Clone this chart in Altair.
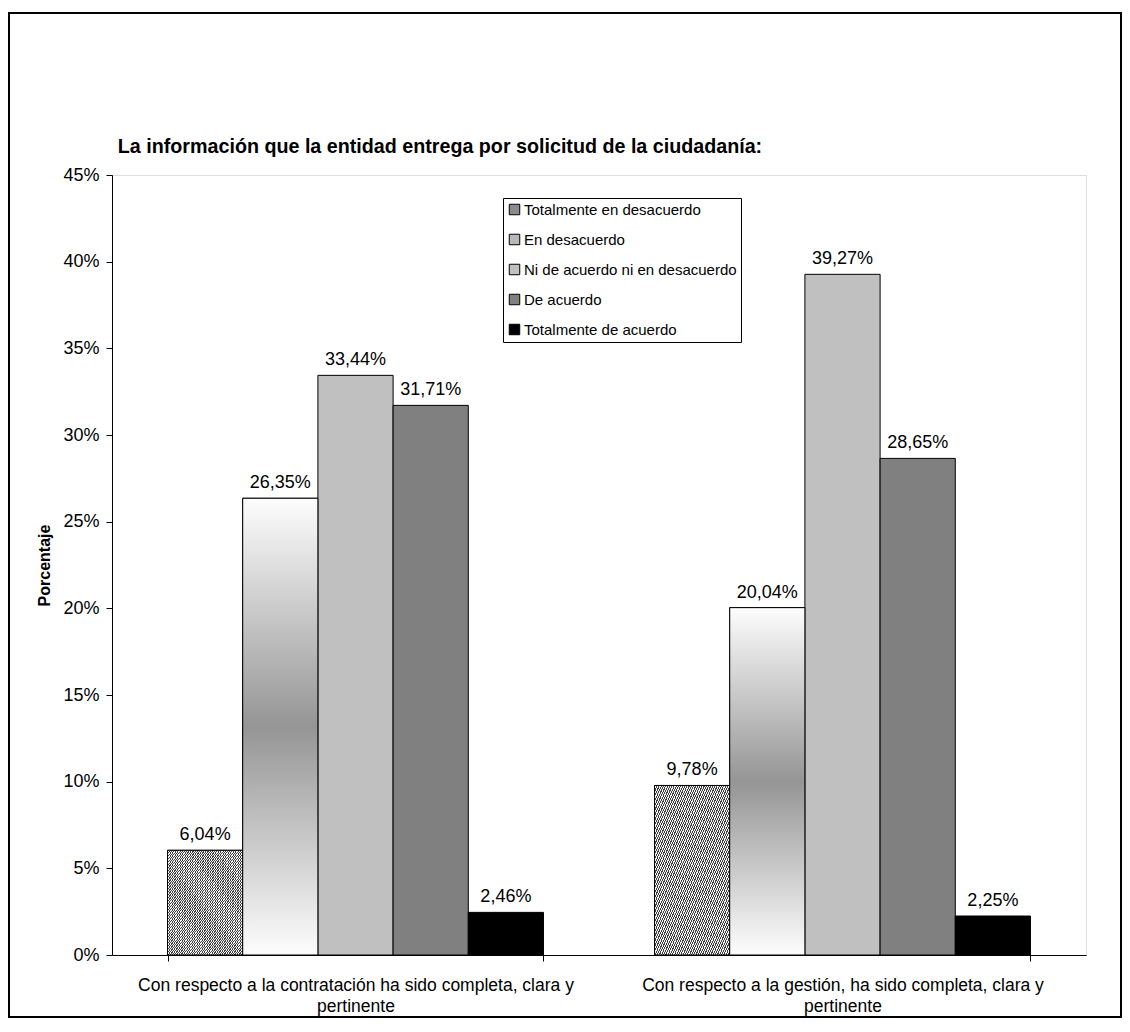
import altair as alt
import pandas as pd

# ---------------- data ----------------
categories = [
    "Con respecto a la contratación ha sido completa, clara y pertinente",
    "Con respecto a la gestión, ha sido completa, clara y pertinente",
]
series = [
    "Totalmente en desacuerdo",
    "En desacuerdo",
    "Ni de acuerdo ni en desacuerdo",
    "De acuerdo",
    "Totalmente de acuerdo",
]
values_contratacion = [6.04, 26.35, 33.44, 31.71, 2.46]
values_gestion = [9.78, 20.04, 39.27, 28.65, 2.25]
y_ticks = [0, 5, 10, 15, 20, 25, 30, 35, 40, 45]
series_colors = ["#8c8c8c", "#b8b8b8", "#c0c0c0", "#808080", "#000000"]
title_text = "La información que la entidad entrega por solicitud de la ciudadanía:"

rows = []
for cat, vals in zip(categories, [values_contratacion, values_gestion]):
    for s, v in zip(series, vals):
        rows.append({"categoria": cat, "serie": s, "valor": v})
df = pd.DataFrame(rows)

FONT = "Liberation Sans, Arial, sans-serif"
W, H = 974, 780

# hatch fill (diagonal stripes) built as a sharp-stop gradient
n_stripes = 70
hatch_stops = []
for i in range(n_stripes):
    a = i / n_stripes
    b = (i + 0.5) / n_stripes
    c = (i + 1) / n_stripes
    hatch_stops += [
        alt.GradientStop(color="#404040", offset=a),
        alt.GradientStop(color="#404040", offset=b),
        alt.GradientStop(color="#f4f4f4", offset=b),
        alt.GradientStop(color="#f4f4f4", offset=c),
    ]
hatch = alt.Gradient(gradient="linear", stops=hatch_stops, x1=0, y1=0, x2=1, y2=1)

center_grad = alt.Gradient(
    gradient="linear",
    stops=[
        alt.GradientStop(color="#fdfdfd", offset=0),
        alt.GradientStop(color="#959595", offset=0.5),
        alt.GradientStop(color="#fdfdfd", offset=1),
    ],
    x1=0, y1=0, x2=0, y2=1,
)

x_enc = alt.X(
    "categoria:N",
    sort=categories,
    scale=alt.Scale(paddingInner=0.228, paddingOuter=0.114),
    axis=alt.Axis(
        title=None,
        labelAngle=0,
        labelExpr="datum.label == '' ? '' : [replace(datum.label, ' pertinente', ''), 'pertinente']",
        labelFontSize=17.5,
        labelLineHeight=21,
        labelPadding=15,
        labelLimit=800,
        labelOverlap=False,
        tickBand="extent",
        ticks=True,
        tickSize=6,
        tickColor="black",
        domainColor="black",
        labelColor="black",
        labelFont=FONT,
    ),
)
xo_enc = alt.XOffset("serie:N", sort=series, scale=alt.Scale(paddingInner=0, paddingOuter=0))
y_enc = alt.Y(
    "valor:Q",
    scale=alt.Scale(domain=[0, 45], nice=False),
    axis=alt.Axis(
        values=y_ticks,
        labelExpr="datum.value + '%'",
        grid=False,
        title="Porcentaje",
        titleFontSize=16,
        titleFontWeight="bold",
        titleFont=FONT,
        titleColor="black",
        titlePadding=10,
        labelFontSize=18,
        labelFont=FONT,
        labelColor="black",
        labelPadding=7,
        tickSize=6,
        tickColor="black",
        domainColor="black",
    ),
)

base = alt.Chart(df)

bars = base.mark_bar(stroke="black", strokeWidth=1).encode(
    x=x_enc,
    xOffset=xo_enc,
    y=y_enc,
    color=alt.Color(
        "serie:N",
        sort=series,
        scale=alt.Scale(domain=series, range=series_colors),
        legend=alt.Legend(
            title=None,
            orient="none",
            legendX=391,
            legendY=23,
            direction="vertical",
            fillColor="white",
            strokeColor="black",
            padding=4,
            symbolType="square",
            symbolSize=110,
            symbolStrokeColor="black",
            symbolStrokeWidth=1,
            labelFontSize=15,
            labelFont=FONT,
            labelColor="black",
            labelOffset=2,
            rowPadding=14,
            labelLimit=400,
        ),
    ),
)

hatch_bars = base.transform_filter(
    alt.datum.serie == series[0]
).mark_bar(fill=hatch, stroke="black", strokeWidth=1).encode(x=x_enc, xOffset=xo_enc, y=y_enc)

grad_bars = base.transform_filter(
    alt.datum.serie == series[1]
).mark_bar(fill=center_grad, stroke="black", strokeWidth=1).encode(x=x_enc, xOffset=xo_enc, y=y_enc)

labels = base.transform_calculate(
    etiqueta="replace(format(datum.valor, '.2f'), '.', ',') + '%'"
).mark_text(
    baseline="alphabetic", dy=-10, fontSize=18, font=FONT, color="black"
).encode(x=x_enc, xOffset=xo_enc, y=y_enc, text="etiqueta:N")

title = alt.Chart(alt.Data(values=[{"t": title_text}])).mark_text(
    fontSize=19.7, fontWeight="bold", font=FONT, color="black", align="center", baseline="middle"
).encode(x=alt.value(328), y=alt.value(-28), text="t:N")

frame = alt.Chart(alt.Data(values=[{"f": 1}])).mark_rect(
    fill="transparent", stroke="black", strokeWidth=2
).encode(
    x=alt.value(-103), x2=alt.value(1009), y=alt.value(-162), y2=alt.value(842)
)

chart = alt.layer(bars, hatch_bars, grad_bars, labels, title, frame).properties(
    width=W,
    height=H,
    autosize=alt.AutoSizeParams(type="none"),
    padding={"left": 104, "top": 167, "right": 36, "bottom": 63},
).configure_view(
    stroke="#868686", strokeWidth=1
).configure(background="white")

chart.save("out.html", embed_options={"renderer": "svg", "actions": False})
